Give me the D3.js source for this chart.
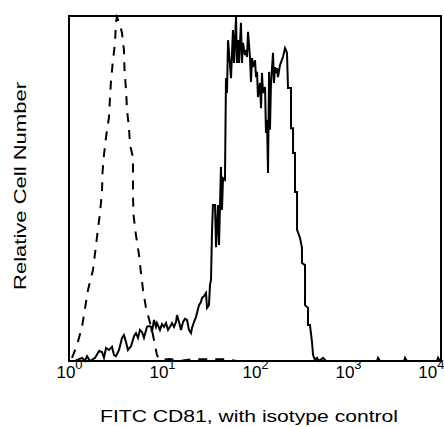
<!DOCTYPE html>
<html>
<head>
<meta charset="utf-8">
<script src="https://cdn.jsdelivr.net/npm/d3@7/dist/d3.min.js"></script>
<style>
  body { margin: 0; background: #fff; }
  text { font-family: "Liberation Sans", Arial, sans-serif; fill: #000; }
</style>
</head>
<body>
<svg id="chart" width="444" height="427"></svg>
<script>
'use strict';

/* Data: log10 fluorescence and relative counts (peak ~100) */

var isoLog = [0.032, 0.086, 0.140, 0.204, 0.258, 0.301, 0.333, 0.355, 0.360, 0.376,
  0.398, 0.430, 0.441, 0.452, 0.473, 0.495, 0.505, 0.516, 0.548, 0.570,
  0.591, 0.597, 0.613, 0.624, 0.645, 0.656, 0.688, 0.688, 0.688, 0.694,
  0.720, 0.753, 0.774, 0.796, 0.828, 0.849, 0.892, 0.925, 0.946, 0.978,
  1.086, 1.190, 1.320, 1.516, 1.710, 1.800];
var isoCount = [0.9, 4.6, 9.9, 20.6, 26.4, 35.9, 42.9, 49.0, 54.5, 59.7,
  64.9, 70.7, 76.5, 81.4, 87.2, 92.2, 98.3, 99.7, 97.4, 95.1,
  90.1, 84.3, 78.6, 72.8, 67.5, 62.6, 59.1, 53.9, 48.1, 42.3,
  36.5, 30.7, 25.5, 20.6, 15.4, 13.3, 9.0, 4.6, 1.7, 0.3,
  0.6, 0, 0.5, 0.5, 0.5, 0];

var cd81Log = [0.065, 0.140, 0.172, 0.194, 0.226, 0.280, 0.323, 0.355, 0.376, 0.398,
  0.430, 0.462, 0.484, 0.505, 0.538, 0.570, 0.591, 0.613, 0.634, 0.667,
  0.699, 0.720, 0.742, 0.763, 0.785, 0.806, 0.839, 0.860, 0.882, 0.892,
  0.914, 0.935, 0.946, 0.978, 1.000, 1.022, 1.043, 1.065, 1.086, 1.108,
  1.129, 1.151, 1.161, 1.183, 1.204, 1.226, 1.247, 1.269, 1.290, 1.312,
  1.323, 1.344, 1.366, 1.398, 1.419, 1.430, 1.452, 1.473, 1.484, 1.505,
  1.516, 1.527, 1.538, 1.548, 1.570, 1.581, 1.602, 1.613, 1.634, 1.645,
  1.656, 1.677, 1.688, 1.699, 1.710, 1.731, 1.742, 1.763, 1.774, 1.796,
  1.806, 1.817, 1.828, 1.849, 1.860, 1.871, 1.892, 1.903, 1.914, 1.925,
  1.946, 1.957, 1.968, 1.978, 2.000, 2.011, 2.022, 2.032, 2.054, 2.065,
  2.075, 2.086, 2.108, 2.118, 2.129, 2.140, 2.151, 2.161, 2.172, 2.194,
  2.204, 2.215, 2.226, 2.237, 2.247, 2.269, 2.301, 2.323, 2.333, 2.344,
  2.355, 2.387, 2.387, 2.409, 2.409, 2.430, 2.430, 2.452, 2.452, 2.484,
  2.505, 2.505, 2.538, 2.538, 2.570, 2.570, 2.591, 2.613, 2.624, 2.645,
  2.667, 2.688, 2.731, 2.763, 3.312, 3.323, 3.344, 3.602, 3.613, 3.634,
  3.957, 3.968, 3.989];
var cd81Count = [0, 0.9, 0, 1.4, 0, 0.9, 2.9, 2.6, 0.9, 3.8,
  3.2, 4.1, 1.7, 1.4, 3.2, 6.7, 7.5, 5.5, 3.2, 4.3,
  7.2, 8.1, 6.7, 9.0, 8.4, 6.7, 9.9, 10.1, 9.9, 8.4,
  11.9, 9.9, 11.0, 9.0, 10.7, 9.9, 11.0, 9.0, 9.9, 11.0,
  9.9, 11.3, 13.3, 11.3, 9.0, 11.3, 12.2, 11.9, 9.0, 8.1,
  9.6, 11.3, 12.8, 16.2, 17.1, 18.3, 18.8, 19.7, 15.4, 16.2,
  22.0, 23.5, 38.0, 45.2, 45.2, 33.0, 45.2, 33.6, 56.2, 43.8,
  53.0, 52.5, 82.0, 77.7, 93.0, 85.8, 82.0, 95.9, 86.4, 99.7,
  86.4, 93.0, 86.4, 98.0, 86.4, 92.2, 88.7, 90.1, 88.1, 95.4,
  88.1, 80.9, 87.8, 85.2, 87.2, 82.3, 83.8, 76.5, 80.6, 73.3,
  83.5, 77.7, 79.4, 66.1, 69.9, 54.5, 83.8, 67.0, 80.6, 89.3,
  80.6, 85.2, 83.5, 84.9, 82.3, 85.8, 88.1, 90.7, 90.1, 89.3,
  79.1, 79.1, 67.5, 67.5, 60.3, 60.3, 49.0, 49.0, 38.0, 35.7,
  32.8, 28.4, 27.8, 16.2, 15.4, 10.4, 10.4, 5.5, 1.7, 0.3,
  0.9, 0, 0.9, 0, 0, 0.9, 0, 0, 0.9, 0,
  0, 0.9, 0];

var tickExponents = [0, 1, 2, 3, 4];
var xTitle = 'FITC CD81, with isotype control';
var yTitle = 'Relative Cell Number';

(function() {
  var plotLeft = 69, plotTop = 16, plotRight = 441, plotBottom = 361;
  var width = 444;

  var svg = d3.select('#chart');

  var x = d3.scaleLog().domain([1, 10000]).range([plotLeft, plotRight]);
  var y = d3.scaleLinear().domain([0, 100]).range([plotBottom, plotTop]);

  function zip(logs, counts) {
    return logs.map(function(d, i) { return { v: Math.pow(10, d), c: counts[i] }; });
  }

  var line = d3.line()
    .x(function(d) { return x(d.v); })
    .y(function(d) { return y(d.c); });

  svg.append('path')
    .datum(zip(isoLog, isoCount))
    .attr('d', line)
    .attr('fill', 'none')
    .attr('stroke', '#000')
    .attr('stroke-width', 2)
    .attr('stroke-dasharray', '9,8');

  svg.append('path')
    .datum(zip(cd81Log, cd81Count))
    .attr('d', line)
    .attr('fill', 'none')
    .attr('stroke', '#000')
    .attr('stroke-width', 2);

  svg.append('rect')
    .attr('x', plotLeft)
    .attr('y', plotTop)
    .attr('width', plotRight - plotLeft)
    .attr('height', plotBottom - plotTop)
    .attr('fill', 'none')
    .attr('stroke', '#000')
    .attr('stroke-width', 2);

  // tick labels as 10^n
  var axis = d3.axisBottom(x)
    .tickValues(tickExponents.map(function(e) { return Math.pow(10, e); }))
    .tickSize(0)
    .tickFormat('');

  var gx = svg.append('g')
    .attr('transform', 'translate(0,' + plotBottom + ')')
    .call(axis);
  gx.select('.domain').remove();

  gx.selectAll('.tick text').remove();
  gx.selectAll('.tick').each(function(d, i, nodes) {
    var last = i === nodes.length - 1;
    var t = d3.select(this).append('text')
      .attr('y', 17)
      .attr('x', last ? width - x(d) : 0)
      .attr('text-anchor', last ? 'end' : 'middle')
      .attr('font-size', 17);
    t.append('tspan').text('10');
    t.append('tspan')
      .attr('dy', -9)
      .attr('font-size', 13)
      .text(Math.round(Math.log10(d)));
  });

  svg.append('text')
    .attr('x', 249)
    .attr('y', 422)
    .attr('text-anchor', 'middle')
    .attr('font-size', 17)
    .attr('textLength', 298)
    .attr('lengthAdjust', 'spacingAndGlyphs')
    .text(xTitle);

  svg.append('text')
    .attr('transform', 'translate(26,186) rotate(-90)')
    .attr('text-anchor', 'middle')
    .attr('font-size', 17)
    .attr('textLength', 208)
    .attr('lengthAdjust', 'spacingAndGlyphs')
    .text(yTitle);
})();
</script>
</body>
</html>
